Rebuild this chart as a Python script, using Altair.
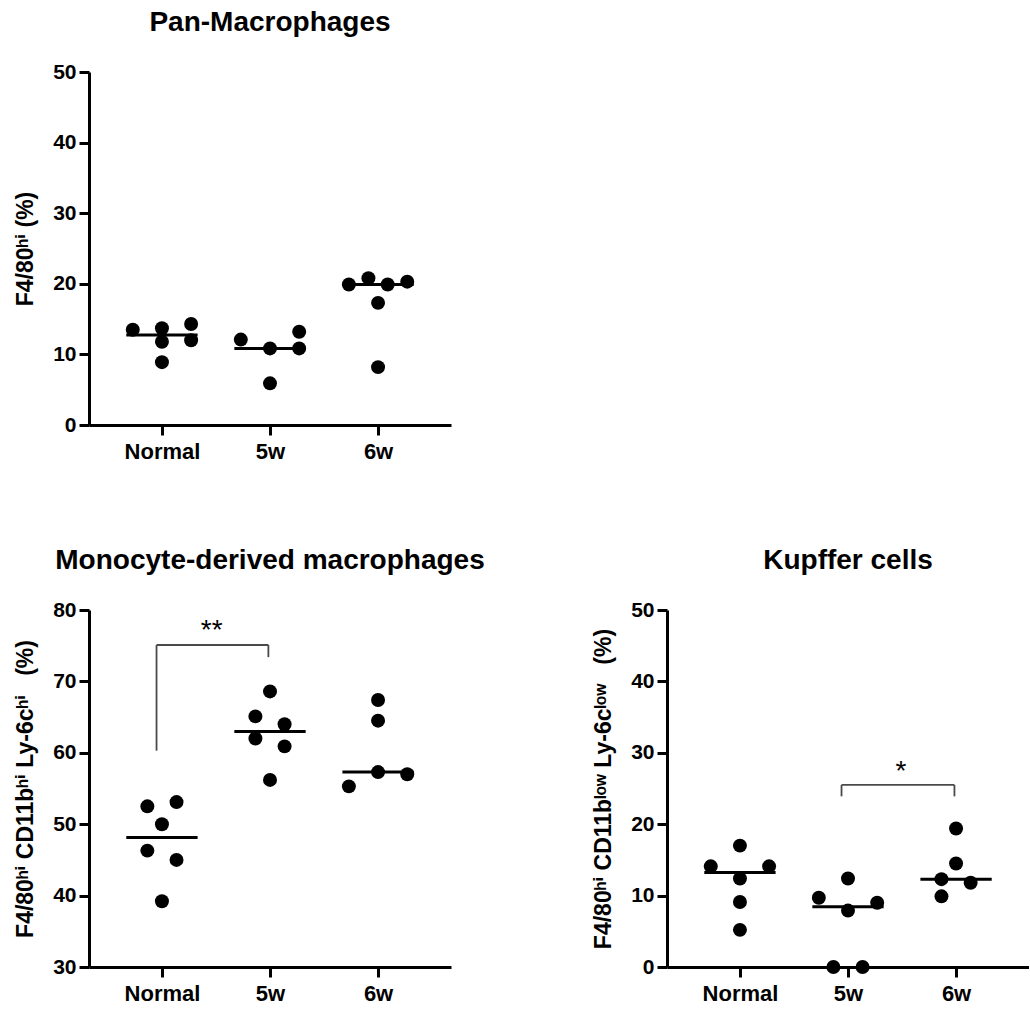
import json
import altair as alt
import pandas as pd

# ---------------- data ----------------
groups = ["Normal", "5w", "6w"]

# Pan-Macrophages : F4/80hi (%)
pan_group = [1, 1, 1, 1, 1, 1, 2, 2, 2, 2, 2, 3, 3, 3, 3, 3, 3]
pan_column = [-1, 0, 0, 0, 1, 1, -1, 0, 0, 1, 1, -1, -0.33, 0, 0, 0.33, 1]
pan_value = [13.5, 13.7, 11.8, 8.9, 14.3, 12.0,
             12.1, 10.85, 5.9, 13.2, 10.85,
             19.9, 20.8, 17.3, 8.2, 19.9, 20.3]

# Monocyte-derived macrophages
mono_group = [1, 1, 1, 1, 1, 1, 2, 2, 2, 2, 2, 2, 3, 3, 3, 3, 3]
mono_column = [-0.5, 0.5, 0, -0.5, 0.5, 0, 0, -0.5, 0.5, -0.5, 0.5, 0, -1, 0, 0, 0, 1]
mono_value = [52.5, 53.1, 50.0, 46.3, 45.0, 39.2,
              68.6, 65.1, 64.0, 62.0, 60.9, 56.2,
              55.3, 67.4, 64.5, 57.3, 57.0]

# Kupffer cells
kup_group = [1, 1, 1, 1, 1, 1, 2, 2, 2, 2, 2, 2, 3, 3, 3, 3, 3]
kup_column = [-1, 0, 1, 0, 0, 0, -1, 0, 0, 1, -0.5, 0.5, 0, 0, -0.5, -0.5, 0.5]
kup_value = [14.1, 17.0, 14.1, 12.4, 9.1, 5.2,
             9.7, 12.4, 7.9, 9.0, 0.0, 0.0,
             19.4, 14.5, 12.3, 9.9, 11.8]

# significance brackets: [left x, right x, top, left-leg bottom, right-leg bottom, label x, label y, label]
mono_bracket = [0.95, 1.985, 75.1, 60.3, 73.4, 1.46, 77.5, "**"]
kup_bracket = [1.94, 2.985, 25.5, 23.9, 23.9, 2.49, 27.7, "*"]

FONT = "Liberation Sans, Arial, DejaVu Sans, sans-serif"
label_expr = json.dumps(groups) + "[datum.value - 1]"


def panel(title, ytitle, grp, col, val, ydomain, height, bracket=None):
    df = pd.DataFrame({"group": grp, "column": col, "value": val})
    xscale = alt.Scale(domain=[0.325, 3.675], nice=False, zero=False)
    yscale = alt.Scale(domain=ydomain, nice=False, zero=False)
    xaxis = alt.Axis(values=[1, 2, 3], labelExpr=label_expr, title=None, grid=False,
                     domainColor="black", domainWidth=3, tickColor="black", tickWidth=3,
                     tickSize=10, labelFont=FONT, labelFontSize=22, labelFontWeight="bold",
                     labelColor="black", labelPadding=6, labelAngle=0)
    yaxis = alt.Axis(values=list(range(ydomain[0], ydomain[1] + 1, 10)), title=ytitle,
                     grid=False, domainColor="black", domainWidth=3, tickColor="black",
                     tickWidth=3, tickSize=10, labelFont=FONT, labelFontSize=21,
                     labelFontWeight="bold", labelColor="black", labelPadding=3,
                     titleFont=FONT, titleFontSize=23, titleFontWeight="bold",
                     titleColor="black", titlePadding=15)

    base = alt.Chart(df)
    pts = base.transform_calculate(xpos="datum.group + datum.column * 0.27").mark_circle(
        size=195, color="black", opacity=1).encode(
        x=alt.X("xpos:Q", scale=xscale, axis=xaxis),
        y=alt.Y("value:Q", scale=yscale, axis=yaxis))
    med = base.transform_aggregate(med="median(value)", groupby=["group"]).transform_calculate(
        lo="datum.group - 0.33", hi="datum.group + 0.33").mark_rule(
        color="black", strokeWidth=3).encode(
        x=alt.X("lo:Q", scale=xscale, axis=xaxis), x2="hi:Q",
        y=alt.Y("med:Q", scale=yscale, axis=yaxis))
    layers = [pts, med]
    if bracket is not None:
        bdf = pd.DataFrame([dict(zip(["xl", "xr", "yt", "yl", "yr", "xs", "ys", "lab"], bracket))])
        bb = alt.Chart(bdf)
        rule = dict(color="#4a4a4a", strokeWidth=1.8)
        layers += [
            bb.mark_rule(**rule).encode(x=alt.X("xl:Q", scale=xscale, axis=xaxis), x2="xr:Q",
                                        y=alt.Y("yt:Q", scale=yscale, axis=yaxis)),
            bb.mark_rule(**rule).encode(x=alt.X("xl:Q", scale=xscale, axis=xaxis),
                                        y=alt.Y("yl:Q", scale=yscale, axis=yaxis), y2="yt:Q"),
            bb.mark_rule(**rule).encode(x=alt.X("xr:Q", scale=xscale, axis=xaxis),
                                        y=alt.Y("yr:Q", scale=yscale, axis=yaxis), y2="yt:Q"),
            bb.mark_text(font=FONT, fontSize=28, color="black", baseline="middle", dy=3).encode(
                x=alt.X("xs:Q", scale=xscale, axis=xaxis),
                y=alt.Y("ys:Q", scale=yscale, axis=yaxis), text="lab:N"),
        ]
    return alt.layer(*layers).properties(
        width=362, height=height,
        title=alt.TitleParams(title, font=FONT, fontSize=28, fontWeight="bold",
                              color="black", anchor="middle", offset=24))


NB = "\u00a0"
top = panel("Pan-Macrophages", "F4/80ʰⁱ" + NB + "(%)", pan_group, pan_column, pan_value,
            [0, 50], 353)
bl = panel("Monocyte-derived macrophages",
           "F4/80ʰⁱ" + NB + "CD11bʰⁱ" + NB + "Ly-6cʰⁱ" + NB * 3 + "(%)",
           mono_group, mono_column, mono_value, [30, 80], 357, mono_bracket)
br = panel("Kupffer cells",
           "F4/80ʰⁱ" + NB + "CD11bˡᵒʷ" + NB + "Ly-6cˡᵒʷ" + NB * 3 + "(%)",
           kup_group, kup_column, kup_value, [0, 50], 357, kup_bracket)

chart = alt.vconcat(
    top,
    alt.hconcat(bl, br, spacing=216, bounds="flush"),
    spacing=185, bounds="flush",
).properties(
    padding={"left": 14, "top": 9, "right": 0, "bottom": 5},
    background="white",
).configure_view(stroke=None)

chart.save("out.html", embed_options={"renderer": "svg", "actions": False})
